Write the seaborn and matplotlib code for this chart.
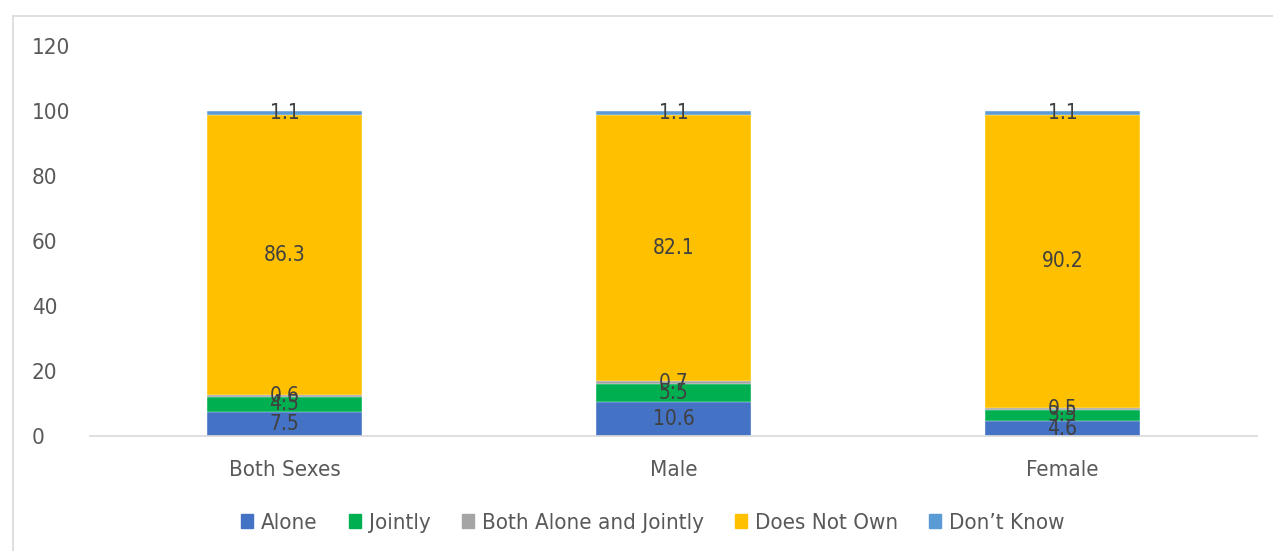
import matplotlib
matplotlib.use("Agg")
import matplotlib.pyplot as plt
import matplotlib.patches as mpatches
import seaborn as sns
import numpy as np
import pandas as pd

categories = ["Both Sexes", "Male", "Female"]
alone = [7.5, 10.6, 4.6]
jointly = [4.5, 5.5, 3.5]
both_alone_jointly = [0.6, 0.7, 0.5]
does_not_own = [86.3, 82.1, 90.2]
dont_know = [1.1, 1.1, 1.1]

series_names = ["Alone", "Jointly", "Both Alone and Jointly", "Does Not Own", "Don\u2019t Know"]
series_values = [alone, jointly, both_alone_jointly, does_not_own, dont_know]
colors = ["#4472C4", "#00B050", "#A5A5A5", "#FFC000", "#5B9BD5"]

sns.set_theme(style="white")
plt.rcParams['font.family'] = ['Liberation Sans Narrow', 'DejaVu Sans']
plt.rcParams['font.stretch'] = 'condensed'

fig = plt.figure(figsize=(12.73, 5.51), dpi=100)
fig.patches.append(mpatches.Rectangle((13/1273, -0.05), 1.2, 1.05 - 16/551,
                                      transform=fig.transFigure, fill=False,
                                      edgecolor="#D9D9D9", linewidth=1.2))
ax = fig.add_axes([90/1273, 1 - 436/551, (1257-90)/1273, (436-46)/551])

cum = np.cumsum(np.array(series_values), axis=0)
for i in range(len(series_names) - 1, -1, -1):
    df = pd.DataFrame({"cat": categories, "val": cum[i]})
    sns.barplot(data=df, x="cat", y="val", color=colors[i], width=0.4,
                saturation=1, ax=ax, edgecolor="white", linewidth=0.3)

for i, name in enumerate(series_names):
    for j, cat in enumerate(categories):
        v = series_values[i][j]
        base = cum[i][j] - v
        ax.text(j, base + v / 2, f"{v:.1f}", ha="center", va="center",
                fontsize=15, color="#404040")

ax.set_ylim(0, 120)
ax.set_xlim(-0.5, 2.5)
ax.set_yticks(np.arange(0, 121, 20))
ax.set_xlabel("")
ax.set_ylabel("")
for s in ["top", "right", "left"]:
    ax.spines[s].set_visible(False)
ax.spines["bottom"].set_color("#D9D9D9")
ax.spines["bottom"].set_linewidth(1.2)
ax.tick_params(axis="y", labelsize=16, colors="#595959", length=0, pad=42)
ax.tick_params(axis="x", labelsize=16, colors="#595959", length=0, pad=17)
for lbl in ax.get_yticklabels():
    lbl.set_horizontalalignment("left")

handles = [mpatches.Patch(color=c, label=n) for n, c in zip(series_names, colors)]
fig.legend(handles=handles, loc="center", bbox_to_anchor=(653/1273, 1 - 523/551),
           ncol=5, frameon=False, fontsize=16, handlelength=0.55, handleheight=0.55,
           handletextpad=0.35, columnspacing=1.4, labelcolor="#595959")

fig.savefig("out.png", dpi=100)
